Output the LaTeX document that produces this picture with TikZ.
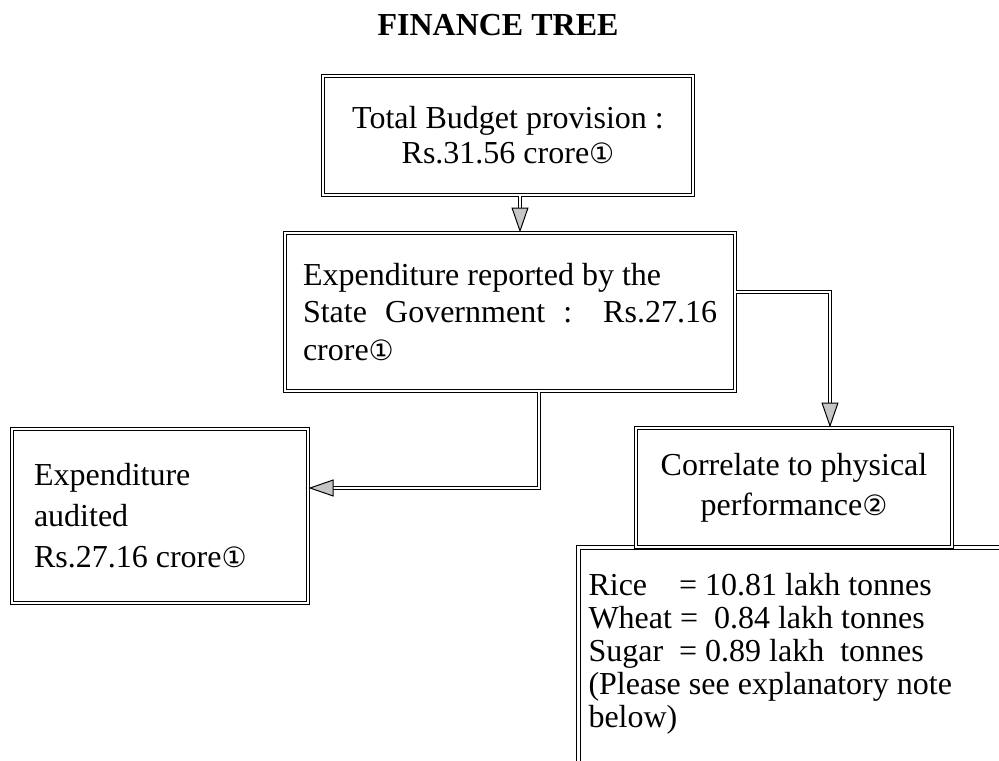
\documentclass[tikz,border=0pt]{standalone}
\usepackage{fontspec}
\setmainfont{Liberation Serif}
\newfontfamily\circfont{DejaVu Sans}
\usetikzlibrary{arrows.meta,positioning}
\newcommand{\cnum}[1]{{\circfont\fontsize{14}{16}\selectfont #1}}
\tikzset{
  box/.style={draw=black, double, double distance=1.3pt, line width=0.5pt,
    fill=white, inner sep=0pt},
  link/.style={draw=black, double, double distance=1.3pt, line width=0.5pt,
    -{Triangle[length=12.5pt,width=8.5pt,fill=gray!45]}},
  title/.style={font=\fontsize{16}{18}\selectfont\bfseries}
}

\begin{document}
\begin{tikzpicture}[x=0.5pt, y=-0.5pt, font=\fontsize{16}{18}\selectfont]
  \clip (0,0) rectangle (999,760);
  \node[title] (head) at (498,25) {FINANCE TREE};
  \node[box, minimum width=185pt, minimum height=59.5pt, align=center,
    font=\fontsize{16}{17.5}\selectfont] (tot) at (508,135.5)
    {Total Budget provision :\\Rs.31.56 crore\cnum{①}};
  \node[box, minimum width=225pt, minimum height=79pt, text width=207pt, align=flush left,
    font=\fontsize{16}{18.8}\selectfont] (rep) at (510,312)
    {Expenditure reported by the\\\makebox[207pt][s]{State Government : Rs.27.16}\\crore\cnum{①}};
  \node[box, minimum width=148pt, minimum height=87pt, text width=126pt, align=flush left,
    font=\fontsize{16}{20.5}\selectfont] (aud) at (160,516)
    {Expenditure\\audited\\Rs.27.16 crore\cnum{①}};
  % physical quantities, box runs off the page
  \node[box, anchor=north west, inner xsep=5pt, inner ysep=13pt, text width=206pt,
    text depth=90pt, align=flush left, font=\fontsize{16}{16.5}\selectfont] (phys) at (578,547)
    {Rice\quad= 10.81 lakh tonnes\\Wheat = ~0.84 lakh tonnes\\Sugar~~= 0.89 lakh~~tonnes\\(Please see explanatory note\\below)};
  \node[box, minimum width=158pt, minimum height=59.5pt, align=center,
    font=\fontsize{16}{20}\selectfont] (corr) at (794,487.5)
    {Correlate to physical\\performance\cnum{②}};
  \draw[link] ([xshift=6pt]tot.south) -- ([xshift=6pt]tot.south |- rep.north);
  \draw[link] ([xshift=14.5pt]rep.south) |- ([yshift=14pt]aud.east);
  \draw[link] ([yshift=10pt]rep.east) -| ([xshift=18pt]corr.north);
\end{tikzpicture}
\end{document}
